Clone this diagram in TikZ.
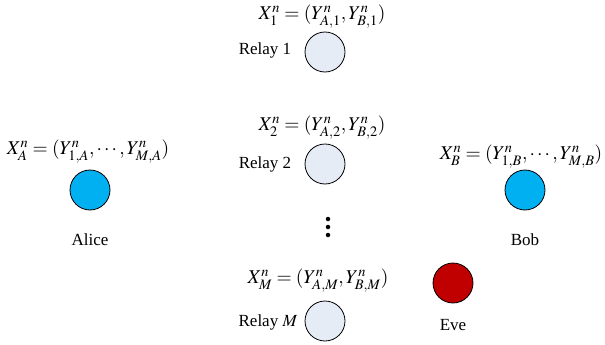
\documentclass[tikz,border=0pt]{standalone}
\usepackage{mathptmx}
\usepackage{fontspec}
\setmainfont{Liberation Serif}
\definecolor{endc}{RGB}{0,176,240}
\definecolor{relayc}{RGB}{230,236,246}
\definecolor{evec}{RGB}{192,0,0}
\begin{document}
\begin{tikzpicture}[x=1pt,y=-1pt,
  every node/.style={font=\fontsize{17}{20}\selectfont},
  party/.style={circle,draw=black,line width=0.8pt,minimum size=40pt,inner sep=0pt},
  endnode/.style={party,fill=endc},
  relaynode/.style={party,fill=relayc},
  evenode/.style={party,fill=evec},
  lbl/.style={inner sep=0pt},
  eqn/.style={inner sep=0pt,font=\fontsize{19.5}{22}\selectfont},
  dotmark/.style={circle,fill=black,inner sep=0pt,minimum size=4.5pt}]
\useasboundingbox (0,0) rectangle (605,345);
% parties
\node[endnode] (alice) at (90,190) {};
\node[endnode] (bob) at (525,190) {};
\node[relaynode] (r1) at (325,52) {};
\node[relaynode] (r2) at (325,164) {};
\node[relaynode] (rM) at (325,321) {};
\node[evenode] (eve) at (453,283) {};
% labels
\node[lbl] (alicel) at (90,240) {Alice};
\node[lbl] (bobl) at (525,240) {Bob};
\node[lbl] (evel) at (453,325) {Eve};
\node[lbl] (r1l) at (265,50) {Relay 1};
\node[lbl] (r2l) at (265,164) {Relay 2};
\node[lbl] (rMl) at (268,322) {Relay $M$};
% equations
\node[eqn] (eqA) at (88,152) {$X_A^n=(Y_{1,A}^n,\cdots,Y_{M,A}^n)$};
\node[eqn] (eqB) at (521,157) {$X_B^n=(Y_{1,B}^n,\cdots,Y_{M,B}^n)$};
\node[eqn] (eq1) at (322,17) {$X_1^n=(Y_{A,1}^n,Y_{B,1}^n)$};
\node[eqn] (eq2) at (322,128) {$X_2^n=(Y_{A,2}^n,Y_{B,2}^n)$};
\node[eqn] (eqM) at (318,281) {$X_M^n=(Y_{A,M}^n,Y_{B,M}^n)$};
% vertical dots
\node[dotmark] (d1) at (328,219) {};
\node[dotmark] (d2) at (328,227) {};
\node[dotmark] (d3) at (328,235) {};
\end{tikzpicture}
\end{document}
